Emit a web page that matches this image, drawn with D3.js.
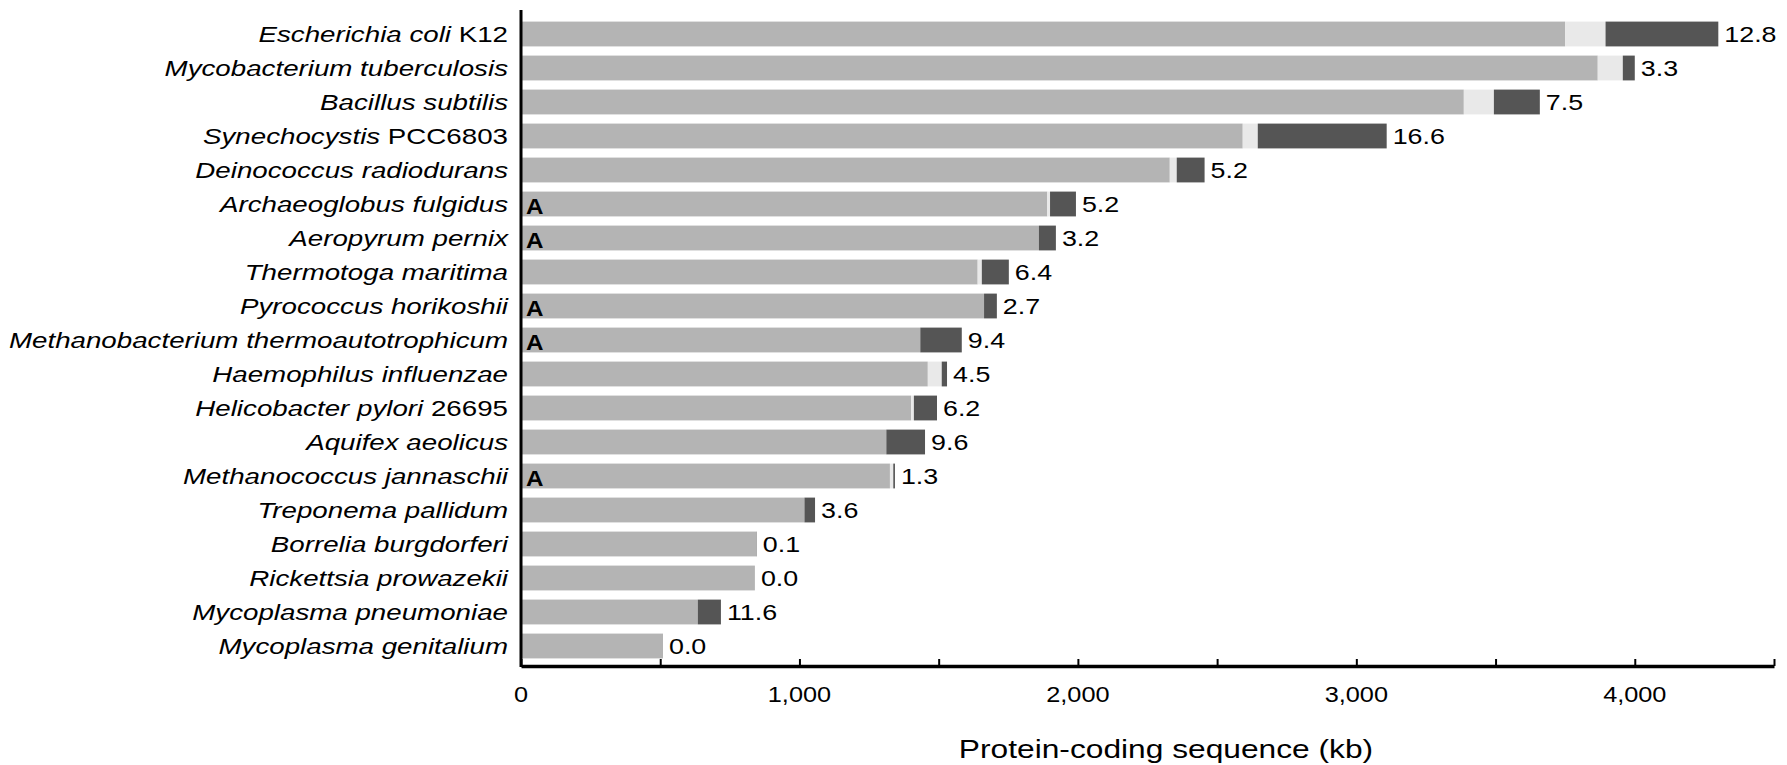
<!DOCTYPE html>
<html>
<head>
<meta charset="utf-8">
<script src="https://cdn.jsdelivr.net/npm/d3@7"></script>
<style>
  body { margin: 0; background: #fff; }
  svg text { font-family: "Liberation Sans", Arial, Helvetica, sans-serif; fill: #000; }
</style>
</head>
<body>
<svg id="chart" width="1787" height="765"></svg>
<script>
// genome names (italic part, upright strain suffix)
const species = [
  "Escherichia coli", "Mycobacterium tuberculosis", "Bacillus subtilis",
  "Synechocystis", "Deinococcus radiodurans", "Archaeoglobus fulgidus",
  "Aeropyrum pernix", "Thermotoga maritima", "Pyrococcus horikoshii",
  "Methanobacterium thermoautotrophicum", "Haemophilus influenzae",
  "Helicobacter pylori", "Aquifex aeolicus", "Methanococcus jannaschii",
  "Treponema pallidum", "Borrelia burgdorferi", "Rickettsia prowazekii",
  "Mycoplasma pneumoniae", "Mycoplasma genitalium"
];
const strains = ["K12", "", "", "PCC6803", "", "", "", "", "", "", "", "26695", "", "", "", "", "", "", ""];
const archaea = [false, false, false, false, false, true, true, false, true, true, false, false, false, true, false, false, false, false, false];

// protein-coding sequence, kb
const nativeKb   = [3750, 3867, 3386, 2592, 2330, 1890, 1860, 1640, 1663, 1434, 1461, 1401, 1312, 1325, 1018, 846, 840, 635, 510];
const insKb      = [145, 90, 108, 54, 25, 10, 0, 15, 0, 0, 50, 10, 0, 12, 0, 0, 0, 0, 0];
const transferKb = [405, 43, 165, 463, 100, 93, 61, 97, 46, 149, 19, 83, 139, 6, 38, 1, 0, 83, 0];
const percent    = ["12.8", "3.3", "7.5", "16.6", "5.2", "5.2", "3.2", "6.4", "2.7", "9.4", "4.5", "6.2", "9.6", "1.3", "3.6", "0.1", "0.0", "11.6", "0.0"];

const tickValues = [0, 1000, 2000, 3000, 4000];
const tickLabels = ["0", "1,000", "2,000", "3,000", "4,000"];

const rows = species.map((s, i) => ({
  name: s, strain: strains[i], archaea: archaea[i],
  native: nativeKb[i], ins: insKb[i], transfer: transferKb[i], pct: percent[i]
}));

const svg = d3.select("#chart");
const x = d3.scaleLinear().domain([0, 4500]).range([521, 1774]);
const y = d3.scaleBand().domain(species).range([17, 663])
  .paddingInner(0.27).paddingOuter(0.135);

const colors = { native: "#b4b4b4", ins: "#e9e9e9", transfer: "#555555" };
const stack = d3.stack().keys(["native", "ins", "transfer"])(rows);

svg.append("g")
  .selectAll("g")
  .data(stack)
  .join("g")
  .attr("fill", d => colors[d.key])
  .selectAll("rect")
  .data(d => d)
  .join("rect")
  .attr("x", d => x(d[0]))
  .attr("y", d => y(d.data.name))
  .attr("width", d => Math.max(0, x(d[1]) - x(d[0])))
  .attr("height", y.bandwidth());

// species labels (stretched horizontally like the original figure)
const labels = svg.append("g")
  .selectAll("g")
  .data(rows)
  .join("g")
  .attr("transform", d => `translate(508,${y(d.name) + y.bandwidth() / 2}) scale(1.26,1)`);

const lt = labels.append("text")
  .attr("text-anchor", "end")
  .attr("dy", "0.36em")
  .style("font-size", "22px");
lt.append("tspan").style("font-style", "italic").text(d => d.name);
lt.append("tspan").text(d => d.strain ? " " + d.strain : "");

// archaea markers
svg.append("g")
  .selectAll("g")
  .data(rows.filter(d => d.archaea))
  .join("g")
  .attr("transform", d => `translate(526,${y(d.name) + y.bandwidth() / 2 + 10}) scale(1.1,1)`)
  .append("text")
  .style("font-size", "22px")
  .style("font-weight", "bold")
  .text("A");

// percent labels
svg.append("g")
  .selectAll("g")
  .data(rows)
  .join("g")
  .attr("transform", d => `translate(${x(d.native + d.ins + d.transfer) + 6},${y(d.name) + y.bandwidth() / 2}) scale(1.22,1)`)
  .append("text")
  .attr("dy", "0.36em")
  .style("font-size", "22px")
  .text(d => d.pct);

// x axis
const xAxis = d3.axisBottom(x)
  .tickValues(d3.range(0, 4501, 500))
  .tickSize(-7)
  .tickSizeOuter(0)
  .tickFormat("");

const ax = svg.append("g")
  .attr("transform", "translate(0,666)")
  .call(xAxis);
ax.select(".domain").attr("stroke", "#000").attr("stroke-width", 3.5);
ax.selectAll(".tick line").attr("stroke", "#000").attr("stroke-width", 2);

svg.append("g")
  .selectAll("g")
  .data(tickValues)
  .join("g")
  .attr("transform", d => `translate(${x(d)},694) scale(1.15,1)`)
  .append("text")
  .attr("text-anchor", "middle")
  .attr("dy", "0.36em")
  .style("font-size", "22px")
  .text((d, i) => tickLabels[i]);

// y axis line
svg.append("line")
  .attr("x1", x(0)).attr("x2", x(0))
  .attr("y1", 10).attr("y2", 667)
  .attr("stroke", "#000")
  .attr("stroke-width", 3);

// axis title
svg.append("g")
  .attr("transform", "translate(1166,758) scale(1.22,1)")
  .append("text")
  .attr("text-anchor", "middle")
  .style("font-size", "26px")
  .text("Protein-coding sequence (kb)");
</script>
</body>
</html>
